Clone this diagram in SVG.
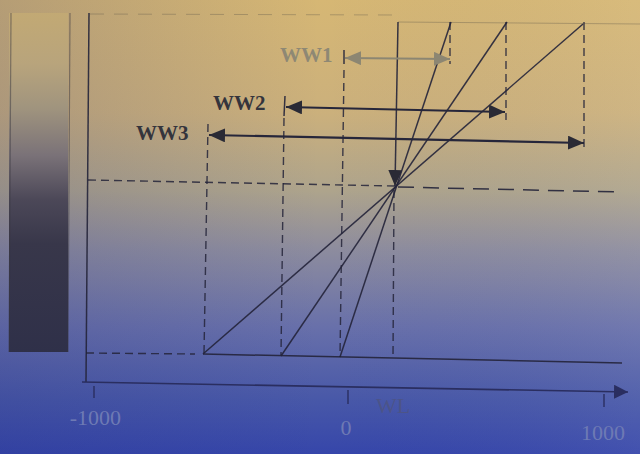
<svg xmlns="http://www.w3.org/2000/svg" width="640" height="454" viewBox="0 0 640 454">
  <defs>
    <linearGradient id="bg" x1="0" y1="0" x2="0" y2="1">
      <stop offset="0" stop-color="#d6b774"/>
      <stop offset="0.25" stop-color="#cbb07c"/>
      <stop offset="0.42" stop-color="#aea48c"/>
      <stop offset="0.55" stop-color="#8d8c9e"/>
      <stop offset="0.72" stop-color="#6870aa"/>
      <stop offset="0.88" stop-color="#4858a8"/>
      <stop offset="1" stop-color="#3646aa"/>
    </linearGradient>
    <linearGradient id="shade" x1="0" y1="0" x2="1" y2="0">
      <stop offset="0" stop-color="#20287a" stop-opacity="0.18"/>
      <stop offset="0.5" stop-color="#20287a" stop-opacity="0"/>
      <stop offset="1" stop-color="#ffffff" stop-opacity="0.06"/>
    </linearGradient>
    <linearGradient id="bar" x1="0" y1="0" x2="0" y2="1">
      <stop offset="0" stop-color="#c2a974"/>
      <stop offset="0.15" stop-color="#b8a47c"/>
      <stop offset="0.28" stop-color="#a0947e"/>
      <stop offset="0.42" stop-color="#7a7278"/>
      <stop offset="0.55" stop-color="#4c4858"/>
      <stop offset="0.68" stop-color="#38374a"/>
      <stop offset="1" stop-color="#2f3049"/>
    </linearGradient>
    <marker id="ah" markerUnits="userSpaceOnUse" markerWidth="16" markerHeight="14" refX="16" refY="7" orient="auto-start-reverse">
      <path d="M0,0 L16,7 L0,14 z" fill="#2a2a35"/>
    </marker>
    <marker id="ahg" markerUnits="userSpaceOnUse" markerWidth="16" markerHeight="14" refX="16" refY="7" orient="auto-start-reverse">
      <path d="M0,0 L16,7 L0,14 z" fill="#8c8672"/>
    </marker>
    <marker id="axh" markerUnits="userSpaceOnUse" markerWidth="14" markerHeight="14" refX="14" refY="7" orient="auto">
      <path d="M0,0 L14,7 L0,14 z" fill="#2a2e60"/>
    </marker>
    <style>
      .ln { stroke:#24243a; stroke-opacity:0.9; stroke-width:1.5; fill:none; }
      .dash { stroke:#24243a; stroke-opacity:0.85; stroke-width:1.4; fill:none; stroke-dasharray:8 5; }
      .faint { stroke:#5a5448; stroke-opacity:0.35; stroke-width:1; fill:none; }
      .arr { stroke:#26263a; stroke-width:2.2; fill:none; }
      .arrg { stroke:#8c8672; stroke-width:2; fill:none; }
      .lbl { font-family:"Liberation Serif","Times New Roman",serif; font-size:21px; font-weight:bold; fill:#34343c; }
      .lblg { font-family:"Liberation Serif","Times New Roman",serif; font-size:21px; font-weight:bold; fill:#8e8874; }
      .ax { font-family:"Liberation Serif","Times New Roman",serif; font-size:22px; fill:#6e7ab4; }
      .axl { font-family:"Liberation Serif","Times New Roman",serif; font-size:22px; fill:#4c5488; }
    </style>
  </defs>

  <rect x="0" y="0" width="640" height="454" fill="url(#bg)"/>
  <rect x="0" y="0" width="640" height="454" fill="url(#shade)"/>

  <g id="grayscale-bar">
    <rect x="9" y="13" width="59" height="339" fill="url(#bar)"/>
    <line x1="11" y1="13" x2="9" y2="352" stroke="#3a3840" stroke-opacity="0.5" stroke-width="1.2"/>
    <line x1="70" y1="13" x2="68" y2="352" stroke="#3a3840" stroke-opacity="0.5" stroke-width="1.2"/>
  </g>

  <g id="axes">
    <line class="ln" x1="89" y1="13" x2="86" y2="382"/>
    <line x1="82" y1="382" x2="628" y2="392" stroke="#2a2e60" stroke-width="1.6" marker-end="url(#axh)"/>
    <line x1="94" y1="386" x2="94" y2="398" stroke="#2a2e60" stroke-width="1.4"/>
    <line x1="348" y1="390" x2="348" y2="404" stroke="#2a2e60" stroke-width="1.4"/>
    <line x1="604" y1="394" x2="604" y2="407" stroke="#2a2e60" stroke-width="1.4"/>
  </g>

  <g id="connectors">
    <!-- reference lines -->
    <line class="faint" x1="90" y1="14" x2="395" y2="15" stroke-dasharray="14 10"/>
    <line class="faint" x1="398" y1="22" x2="640" y2="24"/>
    <line class="dash" x1="86" y1="353" x2="195" y2="354"/>
    <line class="ln" x1="203" y1="354" x2="622" y2="363"/>
    <line class="dash" x1="88" y1="180" x2="395" y2="186"/>
    <line class="ln" x1="398" y1="187" x2="620" y2="192" stroke-dasharray="16 9"/>

    <!-- WL -->
    <line class="ln" x1="398" y1="22" x2="395" y2="186" marker-end="url(#ah)"/>
    <line class="dash" x1="394" y1="190" x2="393" y2="358"/>

    <!-- transfer lines -->
    <line class="ln" x1="203" y1="354" x2="583" y2="24"/>
    <line class="ln" x1="281" y1="356" x2="507" y2="22"/>
    <line class="ln" x1="340" y1="357" x2="451" y2="22"/>

    <!-- vertical window bounds -->
    <line class="dash" x1="208" y1="124" x2="204" y2="353"/>
    <line class="ln" x1="285" y1="96" x2="284" y2="116"/>
    <line class="dash" x1="284" y1="118" x2="281" y2="355"/>
    <line class="ln" x1="344" y1="50" x2="344" y2="64" stroke="#8c8672"/>
    <line class="dash" x1="344" y1="70" x2="340" y2="357"/>
    <line class="dash" x1="450" y1="22" x2="450" y2="64" stroke="#8c8672"/>
    <line class="dash" x1="506" y1="22" x2="506" y2="120"/>
    <line class="dash" x1="584" y1="22" x2="584" y2="148"/>

    <!-- window arrows -->
    <line class="arrg" x1="345" y1="58" x2="450" y2="59" marker-start="url(#ahg)" marker-end="url(#ahg)"/>
    <line class="arr" x1="286" y1="107" x2="505" y2="112" marker-start="url(#ah)" marker-end="url(#ah)"/>
    <line class="arr" x1="209" y1="135" x2="584" y2="143" marker-start="url(#ah)" marker-end="url(#ah)"/>
  </g>

  <g id="labels">
    <text class="lblg" x="280" y="62">WW1</text>
    <text class="lbl" x="213" y="110">WW2</text>
    <text class="lbl" x="136" y="140">WW3</text>
    <text class="axl" x="376" y="413">WL</text>
    <text class="ax" x="121" y="425" text-anchor="end">-1000</text>
    <text class="ax" x="346" y="435" text-anchor="middle">0</text>
    <text class="ax" x="625" y="440" text-anchor="end">1000</text>
  </g>
</svg>
